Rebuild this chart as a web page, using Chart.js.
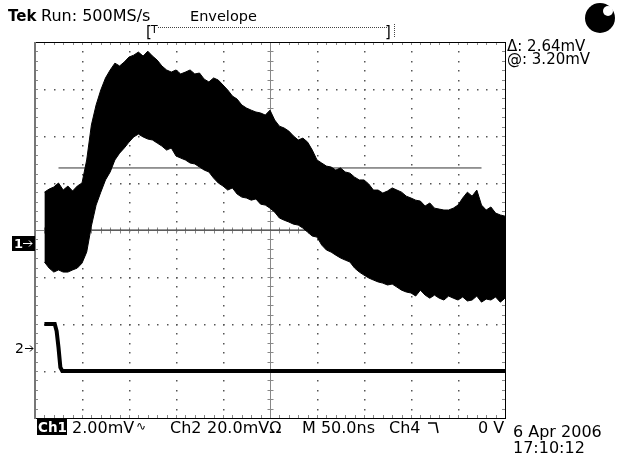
<!DOCTYPE html>
<html>
<head>
<meta charset="utf-8">
<script src="https://cdn.jsdelivr.net/npm/chart.js@4"></script>
<style>
  html, body { margin: 0; padding: 0; background: #fff; }
  #scope { display: block; }
</style>
</head>
<body>
<canvas id="scope" width="619" height="454"></canvas>
<script>
// time base: 50 ns/div, 10 divs, envelope sampled every 5 ns from -240 ns
const sampleStartNs = -240;
const sampleStepNs = 5;

// Ch1 envelope (mV), max and min per sample
const ch1UpperMv = [
  2.17, 2.30, 2.39, 2.56, 2.26, 2.43, 2.22, 2.43, 2.56, 3.54,
  5.03, 5.88, 6.52, 7.03, 7.37, 7.66, 7.54, 7.71, 7.92, 8.00,
  8.13, 7.96, 8.17, 7.96, 7.79, 7.54, 7.37, 7.28, 7.37, 7.20,
  7.28, 7.37, 7.20, 7.24, 6.98, 6.86, 7.03, 6.94, 6.73, 6.52,
  6.26, 6.13, 5.88, 5.75, 5.66, 5.58, 5.54, 5.45, 5.66, 5.24,
  4.98, 4.90, 4.77, 4.56, 4.39, 4.47, 4.30, 3.96, 3.54, 3.41,
  3.28, 3.24, 3.11, 3.20, 3.03, 2.98, 2.81, 2.69, 2.69, 2.52,
  2.26, 2.26, 2.13, 2.22, 2.35, 2.26, 2.17, 2.00, 1.92, 1.83,
  1.79, 1.58, 1.71, 1.49, 1.45, 1.41, 1.41, 1.49, 1.62, 1.92,
  2.17, 2.00, 2.26, 1.62, 1.41, 1.54, 1.28, 1.20, 1.15
];
const ch1LowerMv = [
  -0.80, -1.06, -1.23, -1.14, -1.23, -1.23, -1.14, -1.06, -0.85, -0.38,
  0.73, 1.62, 2.17, 2.69, 3.03, 3.54, 3.83, 4.05, 4.30, 4.52,
  4.64, 4.52, 4.43, 4.39, 4.26, 4.13, 3.96, 4.05, 3.71, 3.62,
  3.54, 3.41, 3.37, 3.24, 3.11, 3.03, 2.77, 2.56, 2.43, 2.26,
  2.35, 2.09, 1.96, 1.92, 1.83, 1.88, 1.66, 1.62, 1.49, 1.32,
  1.07, 0.98, 0.90, 0.81, 0.77, 0.64, 0.47, 0.30, 0.26, -0.08,
  -0.29, -0.38, -0.51, -0.63, -0.72, -0.80, -1.06, -1.23, -1.36, -1.48,
  -1.57, -1.65, -1.70, -1.78, -1.74, -1.87, -2.00, -2.08, -2.12, -2.25,
  -2.00, -2.21, -2.34, -2.21, -2.34, -2.42, -2.25, -2.34, -2.42, -2.29,
  -2.46, -2.42, -2.25, -2.51, -2.38, -2.42, -2.29, -2.51, -2.34
];

// Ch2 step (mV)
const ch2TimesNs = [-240, -229, -227, -225, -223, -221, -150, -60, 250];
const ch2Mv      = [10.0, 10.0, 7.0, 0.0, -8.5, -10.0, -10.0, -10.0, -10.0];

// horizontal bar cursors on Ch1 (mV)
const cursorTimesNs = [-225, 225];
const cursorLevelsMv = [3.20, 0.56];

// channel settings: volts/div and position (div)
const ch1MvPerDiv = 2, ch1PosDiv = -0.28;
const ch2MvPerDiv = 20, ch2PosDiv = -2.5;

const timesNs = ch1UpperMv.map((_, i) => sampleStartNs + i * sampleStepNs);
const toDiv = (mv, perDiv, pos) => mv / perDiv + pos;

const upperPts = timesNs.map((t, i) => ({ x: t, y: toDiv(ch1UpperMv[i], ch1MvPerDiv, ch1PosDiv) }));
const lowerPts = timesNs.map((t, i) => ({ x: t, y: toDiv(ch1LowerMv[i], ch1MvPerDiv, ch1PosDiv) }));
const ch2Pts = ch2TimesNs.map((t, i) => ({ x: t, y: toDiv(ch2Mv[i], ch2MvPerDiv, ch2PosDiv) }));

const FONT = '"DejaVu Sans", sans-serif';

const scopeDecor = {
  id: 'scopeDecor',
  beforeDatasetsDraw(chart) {
    const { ctx, chartArea: a } = chart;
    const xs = chart.scales.x, ys = chart.scales.y;
    ctx.save();
    ctx.fillStyle = '#555';
    // dotted graticule
    for (let v = -200; v <= 200; v += 50) {
      if (v === 0) continue;
      const px = Math.round(xs.getPixelForValue(v));
      for (let d = -3.8; d < 3.9; d += 0.2) {
        ctx.fillRect(px, Math.round(ys.getPixelForValue(d)), 1.5, 1.5);
      }
    }
    for (let d = -3; d <= 3; d++) {
      if (d === 0) continue;
      const py = Math.round(ys.getPixelForValue(d));
      for (let v = -240; v < 245; v += 10) {
        ctx.fillRect(Math.round(xs.getPixelForValue(v)), py, 1.5, 1.5);
      }
    }
    // centre cross with minor ticks
    const cx = Math.round(xs.getPixelForValue(0)) + 0.5;
    const cy = Math.round(ys.getPixelForValue(0)) + 0.5;
    ctx.strokeStyle = '#888';
    ctx.lineWidth = 1;
    ctx.beginPath();
    ctx.moveTo(a.left, cy); ctx.lineTo(a.right, cy);
    ctx.moveTo(cx, a.top); ctx.lineTo(cx, a.bottom);
    for (let v = -240; v < 250; v += 10) {
      const px = Math.round(xs.getPixelForValue(v)) + 0.5;
      ctx.moveTo(px, cy - 3); ctx.lineTo(px, cy + 3);
      ctx.moveTo(px, a.top); ctx.lineTo(px, a.top + 3);
      ctx.moveTo(px, a.bottom); ctx.lineTo(px, a.bottom - 3);
    }
    for (let d = -3.8; d < 3.9; d += 0.2) {
      const py = Math.round(ys.getPixelForValue(d)) + 0.5;
      ctx.moveTo(cx - 3, py); ctx.lineTo(cx + 3, py);
      ctx.moveTo(a.left, py); ctx.lineTo(a.left + 3, py);
      ctx.moveTo(a.right, py); ctx.lineTo(a.right - 3, py);
    }
    ctx.stroke();
    // frame
    ctx.strokeStyle = '#000';
    ctx.strokeRect(a.left + 0.5, a.top + 0.5, a.right - a.left, a.bottom - a.top);
    ctx.strokeStyle = '#777';
    ctx.lineWidth = 2;
    ctx.beginPath();
    ctx.moveTo(a.left, a.top); ctx.lineTo(a.left, a.bottom + 1);
    ctx.stroke();
    ctx.restore();
  },
  afterDraw(chart) {
    const { ctx } = chart;
    const ys = chart.scales.y;
    ctx.save();
    ctx.textBaseline = 'alphabetic';
    ctx.fillStyle = '#000';

    // header
    ctx.font = 'bold 15px ' + FONT;
    ctx.fillText('Tek', 8, 21);
    ctx.font = '16px ' + FONT;
    ctx.fillText('Run: 500MS/s', 41, 21);
    ctx.font = '14.5px ' + FONT;
    ctx.fillText('Envelope', 190, 21);

    // trigger position bar
    ctx.font = '15px ' + FONT;
    ctx.fillText('[', 146, 37);
    ctx.fillText(']', 385, 37);
    ctx.font = '11px ' + FONT;
    ctx.fillText('T', 151, 33);
    ctx.strokeStyle = '#444';
    ctx.lineWidth = 1;
    ctx.setLineDash([1, 1]);
    ctx.beginPath();
    ctx.moveTo(158, 27.5); ctx.lineTo(387, 27.5);
    ctx.moveTo(394.5, 24); ctx.lineTo(394.5, 37);
    ctx.stroke();
    ctx.setLineDash([]);

    // status ball
    ctx.beginPath();
    ctx.arc(600, 18, 15, 0, Math.PI * 2);
    ctx.fill();
    ctx.fillStyle = '#fff';
    ctx.beginPath();
    ctx.arc(608, 11, 5, 0, Math.PI * 2);
    ctx.fill();
    ctx.fillStyle = '#000';

    // cursor readouts
    ctx.font = '15px ' + FONT;
    ctx.fillText('\u0394: 2.64mV', 507, 51);
    ctx.fillText('@: 3.20mV', 507, 64);

    // channel markers
    const y1 = Math.round(ys.getPixelForValue(ch1PosDiv));
    ctx.fillRect(12, y1 - 7, 23, 15);
    ctx.fillStyle = '#fff';
    ctx.font = 'bold 13px ' + FONT;
    ctx.fillText('1', 14, y1 + 5);
    ctx.strokeStyle = '#fff';
    ctx.beginPath();
    ctx.moveTo(23, y1 + 0.5); ctx.lineTo(32, y1 + 0.5);
    ctx.moveTo(29, y1 - 2.5); ctx.lineTo(32, y1 + 0.5); ctx.lineTo(29, y1 + 3.5);
    ctx.stroke();

    const y2 = Math.round(ys.getPixelForValue(ch2PosDiv));
    ctx.fillStyle = '#000';
    ctx.strokeStyle = '#000';
    ctx.font = '14px ' + FONT;
    ctx.fillText('2', 15, y2 + 5);
    ctx.beginPath();
    ctx.moveTo(25, y2 + 0.5); ctx.lineTo(33, y2 + 0.5);
    ctx.moveTo(30, y2 - 2.5); ctx.lineTo(33, y2 + 0.5); ctx.lineTo(30, y2 + 3.5);
    ctx.stroke();

    // bottom status line
    const by = 433;
    ctx.fillRect(37, 419, 30, 16);
    ctx.fillStyle = '#fff';
    ctx.font = 'bold 13.5px ' + FONT;
    ctx.fillText('Ch1', 38, by - 1);
    ctx.fillStyle = '#000';
    ctx.font = '16px ' + FONT;
    ctx.fillText('2.00mV', 72, by);
    ctx.font = '12px ' + FONT;
    ctx.fillText('\u223F', 136, by - 3);
    ctx.font = '16px ' + FONT;
    ctx.fillText('Ch2', 170, by);
    ctx.fillText('20.0mV\u03A9', 207, by);
    ctx.fillText('M 50.0ns', 302, by);
    ctx.fillText('Ch4', 389, by);
    ctx.lineWidth = 1.5;
    ctx.beginPath();
    ctx.moveTo(428, by - 10); ctx.lineTo(436, by - 10); ctx.lineTo(438, by);
    ctx.stroke();
    ctx.fillText('0 V', 478, by);
    ctx.fillText('6 Apr 2006', 513, 437);
    ctx.fillText('17:10:12', 513, 453);
    ctx.restore();
  }
};

new Chart(document.getElementById('scope').getContext('2d'), {
  type: 'line',
  data: {
    datasets: [
      {
        label: 'Ch1 max',
        data: upperPts,
        borderColor: '#000',
        borderWidth: 1,
        pointRadius: 0,
        fill: false,
        order: 1
      },
      {
        label: 'Ch1 min',
        data: lowerPts,
        borderColor: '#000',
        backgroundColor: '#000',
        borderWidth: 1,
        pointRadius: 0,
        fill: '-1',
        order: 1
      },
      {
        label: 'Ch2',
        data: ch2Pts,
        borderColor: '#000',
        borderWidth: 4,
        pointRadius: 0,
        fill: false,
        order: 0
      },
      ...cursorLevelsMv.map((mv, k) => ({
        label: 'Cursor ' + (k + 1),
        data: cursorTimesNs.map(t => ({ x: t, y: toDiv(mv, ch1MvPerDiv, ch1PosDiv) })),
        borderColor: '#333',
        borderWidth: 1,
        pointRadius: 0,
        fill: false,
        order: 3
      }))
    ]
  },
  options: {
    responsive: false,
    animation: false,
    layout: { padding: { left: 35, top: 42, right: 114, bottom: 36 } },
    plugins: { legend: { display: false }, tooltip: { enabled: false } },
    scales: {
      x: { type: 'linear', min: -250, max: 250, display: false },
      y: { type: 'linear', min: -4, max: 4, display: false }
    }
  },
  plugins: [scopeDecor]
});
</script>
</body>
</html>
